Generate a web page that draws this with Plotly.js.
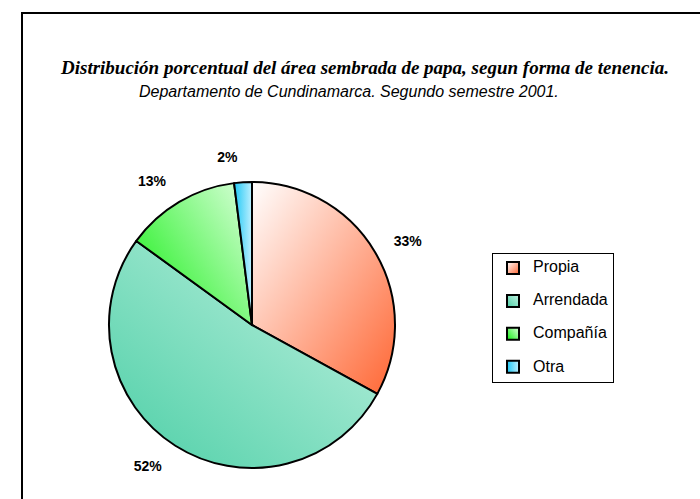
<!DOCTYPE html>
<html>
<head>
<meta charset="utf-8">
<script src="https://cdn.plot.ly/plotly-3.0.1.min.js"></script>
<style>
  body { margin: 0; background: #fff; }
  #chartDiv { width: 700px; height: 499px; }
</style>
</head>
<body>
<div id="chartDiv"></div>
<script>
// tenure categories and their share of sown potato area (%)
var categories = ['Propia', 'Arrendada', 'Compañía', 'Otra'];
var shares = [33, 52, 13, 2];
var flatColors = ['#ffa483', '#8ee0c4', '#7cf87c', '#66d8ff']; // fallback fill
// gradient stops per slice: [from, to, x1, y1, x2, y2]
var gradients = [
    ['#ffffff', '#ff6633', 0, 0, 1, 1],
    ['#c4f2e2', '#4ccfa6', 1, 0, 0, 1],
    ['#22f022', '#dcffdc', 0, 0.8, 1, 0],
    ['#1ec8f5', '#bff0ff', 0, 0, 1, 0]
];

var W = 700, H = 499;
var cx = 252, cy = 325, r = 143; // pie centre & radius in px
var rText = 160;                 // labels sit further out than the pie edge

function dom(rad) {
    return {
        x: [(cx - rad) / W, (cx + rad) / W],
        y: [1 - (cy + rad) / H, 1 - (cy - rad) / H]
    };
}

// legend entries: big text plus an empty line to get the wide row spacing
// (last one without, so the box ends right under it)
var legendLabels = categories.map(function (c, i) {
    var txt = '<span style="font-size:16px">' + c + '</span>';
    return i < categories.length - 1 ? txt + '<br> ' : txt;
});

var data = [{
    // invisible, slightly bigger pie that only carries the % labels
    type: 'pie',
    labels: legendLabels,
    values: shares,
    sort: false,
    direction: 'clockwise',
    rotation: 0,
    marker: { colors: ['rgba(0,0,0,0)', 'rgba(0,0,0,0)', 'rgba(0,0,0,0)', 'rgba(0,0,0,0)'], line: { width: 0 } },
    texttemplate: '%{percent:.0%}',
    textposition: 'outside',
    outsidetextfont: { family: 'Liberation Sans, Arial, sans-serif', size: 14, color: '#000', weight: 'bold' },
    domain: dom(rText),
    showlegend: false,
    hoverinfo: 'none'
}, {
    type: 'pie',
    labels: legendLabels,
    values: shares,
    sort: false,
    direction: 'clockwise',
    rotation: 0,
    marker: { colors: flatColors, line: { color: '#000', width: 2 } },
    textinfo: 'none',
    domain: dom(r),
    hoverinfo: 'none'
}];

var layout = {
    width: W,
    height: H,
    margin: { l: 0, r: 0, t: 0, b: 0 },
    paper_bgcolor: '#fff',
    showlegend: true,
    hovermode: false,
    legend: {
        x: 492 / W, y: 1 - 253 / H,
        xanchor: 'left', yanchor: 'top',
        bordercolor: '#000', borderwidth: 1,
        bgcolor: '#fff',
        itemwidth: 30,
        valign: 'top',
        font: { family: 'Liberation Sans, Arial, sans-serif', size: 11.5, color: '#000' }
    },
    annotations: [{
        text: 'Distribución porcentual del área sembrada de papa, segun forma de tenencia.',
        xref: 'paper', yref: 'paper',
        x: 364 / W, y: 1 - 67 / H, yanchor: 'middle',
        showarrow: false,
        font: { family: 'Liberation Serif, serif', size: 19, color: '#000', style: 'italic', weight: 'bold' }
    }, {
        text: 'Departamento de Cundinamarca. Segundo semestre 2001.',
        xref: 'paper', yref: 'paper',
        x: 349 / W, y: 1 - 92 / H, yanchor: 'middle',
        showarrow: false,
        font: { family: 'Liberation Sans, Arial, sans-serif', size: 16, color: '#000', style: 'italic' }
    }],
    shapes: [{ // outer chart frame, runs off the right and bottom edge
        type: 'rect', xref: 'paper', yref: 'paper',
        x0: 22 / W, x1: 1.02, y0: -0.02, y1: 1 - 13 / H,
        line: { color: '#000', width: 2 }
    }]
};

Plotly.newPlot('chartDiv', data, layout, { staticPlot: true }).then(function (gd) {
    // swap the flat fills for gradients like the original
    var svg = gd.querySelector('svg.main-svg');
    var ns = 'http://www.w3.org/2000/svg';
    var defs = svg.querySelector('defs') || svg.insertBefore(document.createElementNS(ns, 'defs'), svg.firstChild);
    gradients.forEach(function (g, i) {
        var lg = document.createElementNS(ns, 'linearGradient');
        lg.setAttribute('id', 'grad' + i);
        lg.setAttribute('x1', g[2]); lg.setAttribute('y1', g[3]);
        lg.setAttribute('x2', g[4]); lg.setAttribute('y2', g[5]);
        var s1 = document.createElementNS(ns, 'stop');
        s1.setAttribute('offset', '0'); s1.setAttribute('stop-color', g[0]);
        var s2 = document.createElementNS(ns, 'stop');
        s2.setAttribute('offset', '1'); s2.setAttribute('stop-color', g[1]);
        lg.appendChild(s1); lg.appendChild(s2);
        defs.appendChild(lg);
    });
    var traces = gd.querySelectorAll('.pielayer .trace');
    var slices = traces[traces.length - 1].querySelectorAll('.slice path.surface');
    slices.forEach(function (p, i) { p.style.fill = 'url(#grad' + i + ')'; });
    var swatches = gd.querySelectorAll('.legend .legendpoints path');
    swatches.forEach(function (p, i) { p.style.fill = 'url(#grad' + i + ')'; });
});
</script>
</body>
</html>
